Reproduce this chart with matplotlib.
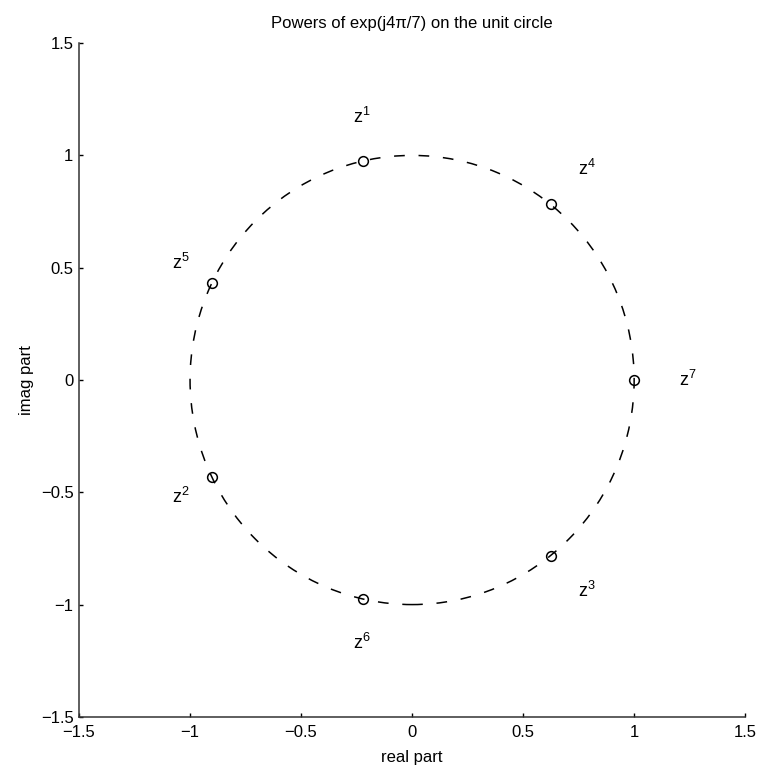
import matplotlib
matplotlib.use("Agg")
import matplotlib.pyplot as plt
from matplotlib.patches import Circle

plt.rcParams['font.family'] = ['Liberation Sans', 'DejaVu Sans']

# powers z^k of exp(j4*pi/7)
powers = [1, 2, 3, 4, 5, 6, 7]
re_part = [-0.2225, -0.9010, 0.6235, 0.6235, -0.9010, -0.2225, 1.0]
im_part = [0.9749, -0.4339, -0.7818, 0.7818, 0.4339, -0.9749, 0.0]
ticks = [-1.5, -1, -0.5, 0, 0.5, 1, 1.5]
tick_labels = ['\u22121.5', '\u22121', '\u22120.5', '0', '0.5', '1', '1.5']

fig = plt.figure(figsize=(7.71, 7.70), dpi=100)
ax = fig.add_axes([0.1025, 0.069, 0.864, 0.875])

# dashed unit circle
ax.add_patch(Circle((0, 0), 1.0, fill=False, ls=(0, (7, 9)), lw=1.1, color='black'))

ax.plot(re_part, im_part, 'o', mfc='none', mec='black', ms=7, mew=1.1)

for k, x, y in zip(powers, re_part, im_part):
    ax.text(1.2 * x, 1.2 * y, r'$\mathregular{z^{%d}}$' % k,
            ha='left', va='center', fontsize=13)

ax.set_xlim(-1.5, 1.5)
ax.set_ylim(-1.5, 1.5)
ax.set_xticks(ticks)
ax.set_xticklabels(tick_labels)
ax.set_yticks(ticks)
ax.set_yticklabels(tick_labels)
ax.spines['top'].set_visible(False)
ax.spines['right'].set_visible(False)
for s in ('left', 'bottom'):
    ax.spines[s].set_linewidth(1.1)
    ax.spines[s].set_color('#333333')
ax.tick_params(direction='in', length=3, width=1, labelsize=12)
ax.tick_params(axis='x', pad=6)
ax.tick_params(axis='y', pad=4)
ax.set_xlabel('real part', fontsize=12, labelpad=7)
ax.set_ylabel('imag part', fontsize=12, labelpad=5)
ax.set_title('Powers of exp(j4\u03c0/7) on the unit circle', fontsize=12, pad=11)

fig.savefig('out.png', dpi=100)
plt.close(fig)
